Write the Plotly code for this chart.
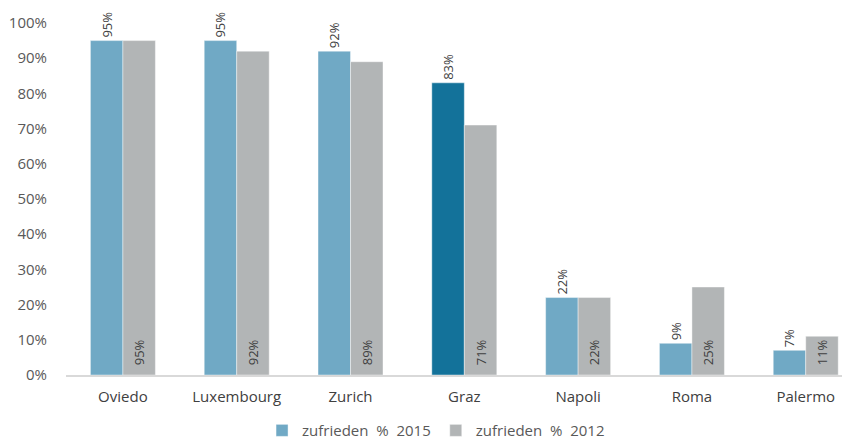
import plotly.graph_objects as go

cities = ["Oviedo", "Luxembourg", "Zurich", "Graz", "Napoli", "Roma", "Palermo"]
v2015 = [95, 95, 92, 83, 22, 9, 7]
v2012 = [95, 92, 89, 71, 22, 25, 11]
name2015 = "zufrieden\u00a0\u00a0%\u00a0\u00a02015"
name2012 = "zufrieden\u00a0\u00a0%\u00a0\u00a02012"

blue = "#70A9C5"
dark = "#13729A"
gray = "#B2B5B6"
colors2015 = [dark if c == "Graz" else blue for c in cities]

fig = go.Figure()
fig.add_trace(go.Bar(
    x=cities, y=[v / 100 for v in v2015], name=name2015,
    marker=dict(color=colors2015, line=dict(color="rgba(255,255,255,0.6)", width=0.7)),
    text=[f"{v}%\u00a0" for v in v2015], textposition="outside", textangle=-90,
    textfont=dict(size=13, color="#404040", family="Open Sans"),
    cliponaxis=False, constraintext="none",
))
fig.add_trace(go.Bar(
    x=cities, y=[v / 100 for v in v2012], name=name2012,
    marker=dict(color=gray, line=dict(color="rgba(255,255,255,0.6)", width=0.7)),
    text=[f"\u00a0\u00a0{v}%" for v in v2012], textposition="inside", insidetextanchor="start",
    textangle=-90, textfont=dict(size=13, color="#404040", family="Open Sans"),
    constraintext="none",
))

fig.update_layout(
    width=842, height=431,
    margin=dict(l=58, r=0, t=15, b=64, autoexpand=False),
    plot_bgcolor="white", paper_bgcolor="white",
    barmode="group", bargap=0.429, bargroupgap=0,
    font=dict(family="Open Sans", size=15, color="#595959"),
    showlegend=True,
    legend=dict(orientation="h", x=0.472, xanchor="center", y=-0.158, yanchor="middle",
                font=dict(size=15, color="#595959"), traceorder="normal",
                itemwidth=30),
)
fig.update_xaxes(
    range=[-0.5, 6.389], showline=True, linecolor="#D9D9D9", linewidth=1.5,
    ticks="", showgrid=False, tickfont=dict(size=15, color="#404040"),
    ticklabelstandoff=7, automargin=False,
)
fig.update_yaxes(
    range=[0, 1.0], tickvals=[i / 10 for i in range(11)],
    ticktext=[f"{i * 10}%" for i in range(11)],
    showgrid=False, zeroline=False, showline=False, ticks="",
    ticklabelstandoff=18, automargin=False,
    tickfont=dict(size=15, color="#595959"),
)

fig.write_html("out.html")
